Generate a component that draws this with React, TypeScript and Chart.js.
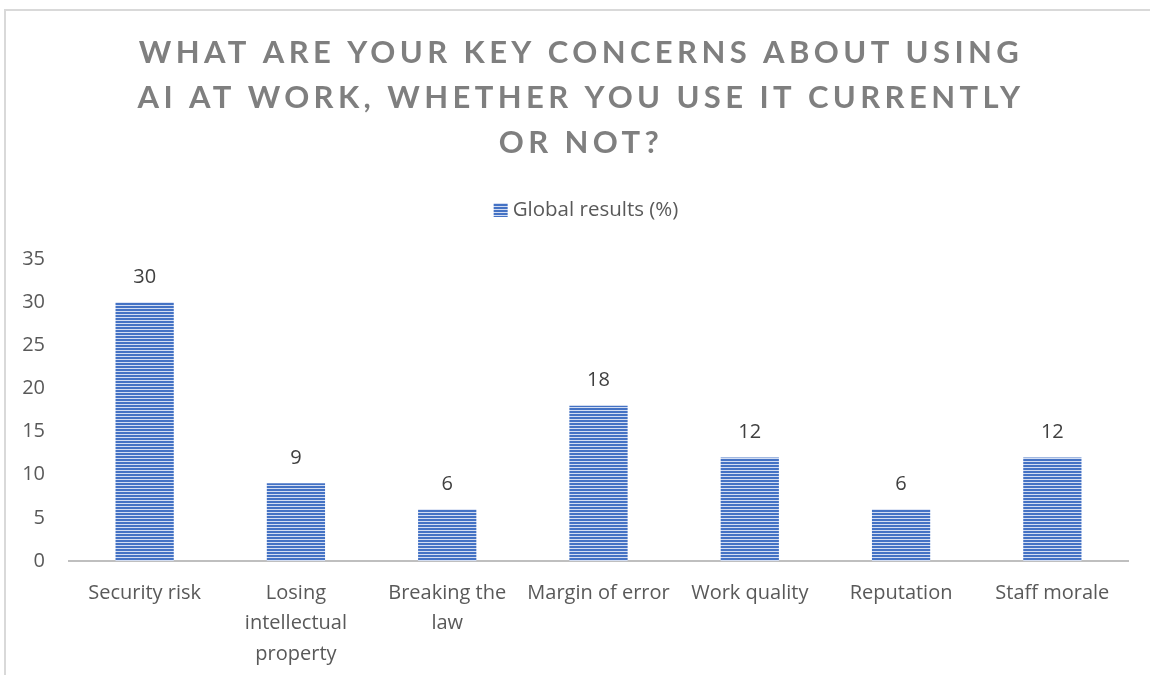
import React, { useEffect, useRef } from "react";
import { Chart, registerables } from "chart.js";

Chart.register(...registerables);

const titleLines = [
  "WHAT ARE YOUR KEY CONCERNS ABOUT USING",
  "AI AT WORK, WHETHER YOU USE IT CURRENTLY",
  "OR NOT?",
];
const categories: (string | string[])[] = [
  "Security risk",
  ["Losing", "intellectual", "property"],
  ["Breaking the", "law"],
  "Margin of error",
  "Work quality",
  "Reputation",
  "Staff morale",
];
const seriesName = "Global results (%)";
const values = [30, 9, 6, 18, 12, 6, 12];
const yMax = 35;
const yStep = 5;

const TITLE_FONT = "Lato, 'Open Sans', sans-serif";
const FONT = "'Open Sans', Lato, sans-serif";

function makePattern(): CanvasPattern | string {
  const c = document.createElement("canvas");
  c.width = 4;
  c.height = 3;
  const x = c.getContext("2d");
  if (!x) return "#4472C4";
  x.fillStyle = "#4472C4";
  x.fillRect(0, 0, 4, 2);
  x.fillStyle = "#d3ddf2";
  x.fillRect(0, 2, 4, 1);
  const p = x.createPattern(c, "repeat");
  return p || "#4472C4";
}

export default function App() {
  const ref = useRef<HTMLCanvasElement | null>(null);

  useEffect(() => {
    if (!ref.current) return;
    const pattern = makePattern();

    const titlePlugin = {
      id: "customTitle",
      afterDraw(chart: any) {
        const ctx = chart.ctx as CanvasRenderingContext2D;
        ctx.save();
        ctx.fillStyle = "#7f7f7f";
        ctx.font = `bold 31px ${TITLE_FONT}`;
        (ctx as any).letterSpacing = "4.4px";
        ctx.textAlign = "center";
        ctx.textBaseline = "middle";
        const ys = [53, 98, 143];
        titleLines.forEach((t, i) => ctx.fillText(t, 581, ys[i]));
        (ctx as any).letterSpacing = "0px";
        // legend
        ctx.font = `20.5px ${FONT}`;
        const tw = ctx.measureText(seriesName).width;
        const box = 14;
        const gap = 5;
        const total = box + gap + tw;
        const x0 = 586 - total / 2;
        ctx.fillStyle = pattern as any;
        ctx.fillRect(x0, 203, box, box);
        ctx.fillStyle = "#595959";
        ctx.textAlign = "left";
        ctx.fillText(seriesName, x0 + box + gap, 210);
        ctx.restore();
      },
    };

    const labelPlugin = {
      id: "dataLabels",
      afterDatasetsDraw(chart: any) {
        const ctx = chart.ctx as CanvasRenderingContext2D;
        const meta = chart.getDatasetMeta(0);
        ctx.save();
        ctx.fillStyle = "#404040";
        ctx.font = `20px ${FONT}`;
        ctx.textAlign = "center";
        ctx.textBaseline = "middle";
        meta.data.forEach((el: any, i: number) => {
          ctx.fillText(String(values[i]), el.x, el.y - 25);
        });
        ctx.restore();
      },
    };

    const chart = new Chart(ref.current, {
      type: "bar",
      data: {
        labels: categories,
        datasets: [
          {
            label: seriesName,
            data: values,
            backgroundColor: pattern as any,
            borderWidth: 0,
            categoryPercentage: 1,
            barPercentage: 0.385,
          },
        ],
      },
      options: {
        animation: false,
        responsive: false,
        maintainAspectRatio: false,
        layout: { padding: { top: 259, right: 22, left: 0, bottom: 0 } },
        plugins: {
          legend: { display: false },
          title: { display: false },
          tooltip: { enabled: false },
        },
        scales: {
          x: {
            grid: { display: false },
            border: { display: true, color: "#bfbfbf", width: 2 },
            ticks: {
              color: "#595959",
              font: { family: FONT, size: 20, lineHeight: 1.52 },
              padding: 9,
              maxRotation: 0,
              autoSkip: false,
            },
            afterFit(scale: any) {
              scale.height = 114;
            },
          },
          y: {
            min: 0,
            max: yMax,
            grid: { display: false },
            border: { display: false },
            ticks: {
              stepSize: yStep,
              color: "#595959",
              font: { family: FONT, size: 20 },
              padding: 16,
            },
            afterFit(scale: any) {
              scale.width = 69;
            },
          },
        },
      },
      plugins: [titlePlugin, labelPlugin],
    });
    return () => chart.destroy();
  }, []);

  return (
    <div
      style={{
        position: "fixed",
        left: 0,
        top: 0,
        width: 1150,
        height: 675,
        background: "#fff",
        overflow: "hidden",
      }}
    >
      <div
        style={{
          position: "absolute",
          left: 4,
          top: 9,
          width: 1146,
          height: 666,
          borderLeft: "2px solid #d9d9d9",
          borderTop: "2px solid #d9d9d9",
          boxSizing: "border-box",
        }}
      />
      <canvas
        ref={ref}
        width={1150}
        height={675}
        style={{ position: "absolute", left: 0, top: 0, width: 1150, height: 675 }}
      />
    </div>
  );
}
